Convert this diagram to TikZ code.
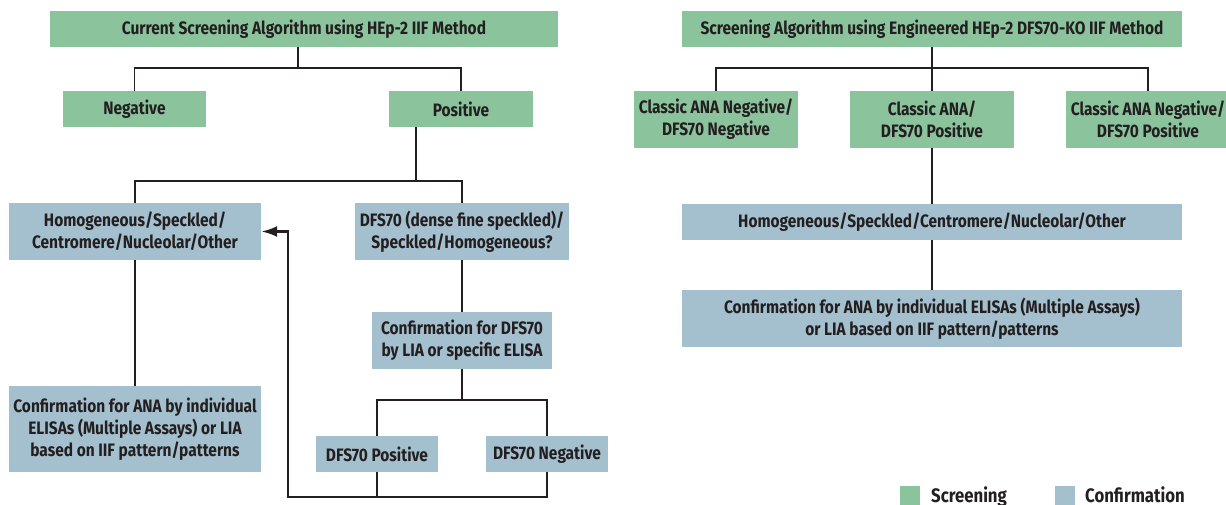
\documentclass[tikz,border=0pt]{standalone}
\usepackage{fontspec}
\setsansfont{Fira Sans}[FakeStretch=0.86]
\usepackage{xcolor}
\usepackage{tikz}
\usetikzlibrary{arrows.meta, positioning, calc}
\definecolor{screen}{RGB}{139, 195, 157}
\definecolor{confirm}{RGB}{164, 191, 205}
\definecolor{inkline}{RGB}{35, 31, 32}
\tikzset{
  font=\sffamily\bfseries\fontsize{18}{22}\selectfont,
  baseblock/.style={
    rectangle, inner sep=0pt, text=inkline,
    minimum height=36pt, align=center
  },
  screenblock/.style={baseblock, fill=screen},
  confirmblock/.style={baseblock, fill=confirm},
  keyblock/.style={rectangle, inner sep=0pt, minimum width=20pt, minimum height=20pt},
  keytext/.style={anchor=base west, inner sep=0pt, text=inkline, font=\sffamily\bfseries\fontsize{19.5}{22}\selectfont},
  treeline/.style={draw=inkline, line width=1.1pt},
  loopline/.style={
    draw=inkline, line width=2.6pt, -{Latex[length=16pt, width=11pt]}
  }
}

\begin{document}
\begin{tikzpicture}[x=1pt, y=-1pt]
  \useasboundingbox (0,0) rectangle (1226,505);

  % Current algorithm (left)
  \node[screenblock, minimum width=508pt] (ttlL) at (304,29) {Current Screening Algorithm using HEp-2 IIF Method};
  \node[screenblock, minimum width=143pt] (neg) at (134.5,109) {Negative};
  \node[screenblock, minimum width=144pt] (pos) at (461,109) {Positive};

  \node[confirmblock, minimum width=252pt, minimum height=57pt] (homL) at (135,231.5) {
    Homogeneous/Speckled/\\Centromere/Nucleolar/Other};
  \node[confirmblock, minimum width=214pt, minimum height=57pt] (dfs) at (462,231.5) {
    DFS70 (dense fine speckled)/\\Speckled/Homogeneous?};

  \node[confirmblock, minimum width=252pt, minimum height=86pt] (confA) at (135,429) {
    Confirmation for ANA by individual\\ELISAs (Multiple Assays) or LIA\\based on IIF pattern/patterns};
  \node[confirmblock, minimum width=180pt, minimum height=57pt] (confD) at (462,340.5) {
    Confirmation for DFS70\\by LIA or specific ELISA};

  \node[confirmblock, minimum width=122pt] (dpos) at (377,454) {DFS70 Positive};
  \node[confirmblock, minimum width=122pt] (dneg) at (547,454) {DFS70 Negative};

  % Engineered algorithm (right)
  \node[screenblock, minimum width=500pt] (ttlR) at (932,29) {Screening Algorithm using Engineered HEp-2 DFS70-KO IIF Method};
  \node[screenblock, minimum width=164pt, minimum height=57pt] (clA) at (716,119.5) {Classic ANA Negative/\\DFS70 Negative};
  \node[screenblock, minimum width=164pt, minimum height=57pt] (clB) at (932,119.5) {Classic ANA/\\DFS70 Positive};
  \node[screenblock, minimum width=164pt, minimum height=57pt] (clC) at (1148,119.5) {Classic ANA Negative/\\DFS70 Positive};
  \node[confirmblock, minimum width=500pt] (homR) at (932,222) {Homogeneous/Speckled/Centromere/Nucleolar/Other};
  \node[confirmblock, minimum width=500pt, minimum height=57pt] (confR) at (932,318.5) {
    Confirmation for ANA by individual ELISAs (Multiple Assays)\\or LIA based on IIF pattern/patterns};

  % Legend
  \node[keyblock, fill=screen] (keyS) at (910,496) {};
  \node[keytext] (keySt) at (931,502) {Screening};
  \node[keyblock, fill=confirm] (keyC) at (1065,496) {};
  \node[keytext] (keyCt) at (1085,502) {Confirmation};

  % Fork points
  \coordinate (forkL) at (298,68);
  \coordinate (forkP) at (416,181);
  \coordinate (forkD) at (462,400);
  \coordinate (forkR) at (932,68);
  \coordinate (loopcorner) at (288,497);

  % Tree lines
  \draw[treeline] (ttlL.south -| forkL) -- (forkL);
  \draw[treeline] (neg.north) |- (forkL) -| (pos.north);
  \draw[treeline] (pos.south -| forkP) -- (forkP);
  \draw[treeline] (homL.north) |- (forkP) -| (dfs.north);
  \draw[treeline] (homL) -- (confA);
  \draw[treeline] (dfs) -- (confD);
  \draw[treeline] (confD.south) -- (forkD);
  \draw[treeline] (dpos.north) |- (forkD) -| (dneg.north);

  \draw[treeline] (ttlR) -- (clB);
  \draw[treeline] (clA.north) |- (forkR) -| (clC.north);
  \draw[treeline] (clB) -- (homR);
  \draw[treeline] (homR) -- (confR);

  % Return loop
  \draw[loopline] (dneg.south) |- (loopcorner) |- (homL.east);
  \draw[loopline, -] (dpos.south) -- (dpos.south |- loopcorner);

\end{tikzpicture}
\end{document}
